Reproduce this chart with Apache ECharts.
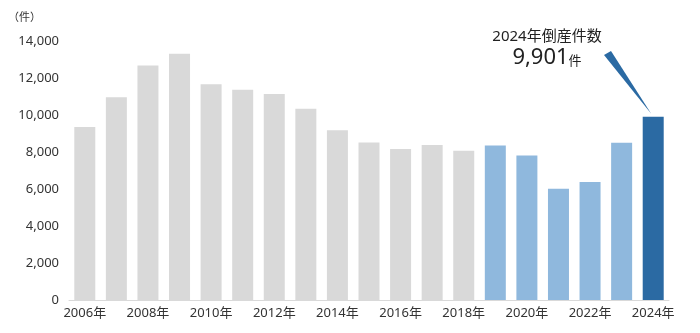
<!DOCTYPE html>
<html><head><meta charset="utf-8">
<script src="https://cdn.jsdelivr.net/npm/echarts@6/dist/echarts.min.js"></script>
<style>html,body{margin:0;padding:0;background:#fff}#c{width:700px;height:333px}</style>
</head><body><div id="c"></div>
<script>
const years = ['2006年','2007年','2008年','2009年','2010年','2011年','2012年','2013年','2014年','2015年','2016年','2017年','2018年','2019年','2020年','2021年','2022年','2023年','2024年'];
const counts = [9351,10959,12681,13306,11658,11369,11129,10332,9180,8517,8164,8376,8063,8354,7809,6015,6376,8497,9901];
const yTicks = [0,2000,4000,6000,8000,10000,12000,14000];
const GRAY='#d9d9d9', LIGHT='#8fb8dd', DARK='#2b6aa3';
const FONT='"Noto Sans","Noto Sans CJK JP",sans-serif';
const colorFor = i => i < 13 ? GRAY : (i < 18 ? LIGHT : DARK);
const chart = echarts.init(document.getElementById('c'));
chart.setOption({
  animation:false,
  textStyle:{fontFamily:FONT},
  grid:{left:69,right:31,top:41,bottom:33},
  xAxis:{type:'category',data:years,
    axisLine:{lineStyle:{color:'#d9d9d9',width:1}},axisTick:{show:false},
    axisLabel:{interval:1,color:'#333',fontSize:13,fontFamily:FONT,margin:7}},
  yAxis:{type:'value',min:yTicks[0],max:yTicks[yTicks.length-1],interval:2000,
    splitLine:{show:false},axisLine:{show:false},axisTick:{show:false},
    axisLabel:{color:'#333',fontSize:13,fontFamily:FONT,margin:10,
      formatter:v=>v.toLocaleString('en-US')}},
  series:[{type:'bar',barWidth:21,
    data:counts.map((v,i)=>({value:v,itemStyle:{color:colorFor(i)}}))}]
});
const last = counts.length-1;
const tip = chart.convertToPixel({seriesIndex:0},[last,counts[last]]);
chart.setOption({graphic:[
  {type:'text',left:8,top:12,style:{text:'（件）',font:'11px '+FONT,fill:'#333'}},
  {type:'text',x:547,y:37,style:{text:'2024年倒産件数',font:'15px '+FONT,fill:'#222',textAlign:'center',textVerticalAlign:'middle'}},
  {type:'text',x:547,y:58,style:{text:'{a|9,901}{b|件}',textAlign:'center',textVerticalAlign:'middle',
    rich:{a:{font:'22px '+FONT,fill:'#222'},b:{font:'13px '+FONT,fill:'#222',padding:[6,0,0,0]}}}},
  {type:'polygon',shape:{points:[[604,55],[611,51],[tip[0]-2,tip[1]-3]]},style:{fill:DARK}}
]});
</script></body></html>
